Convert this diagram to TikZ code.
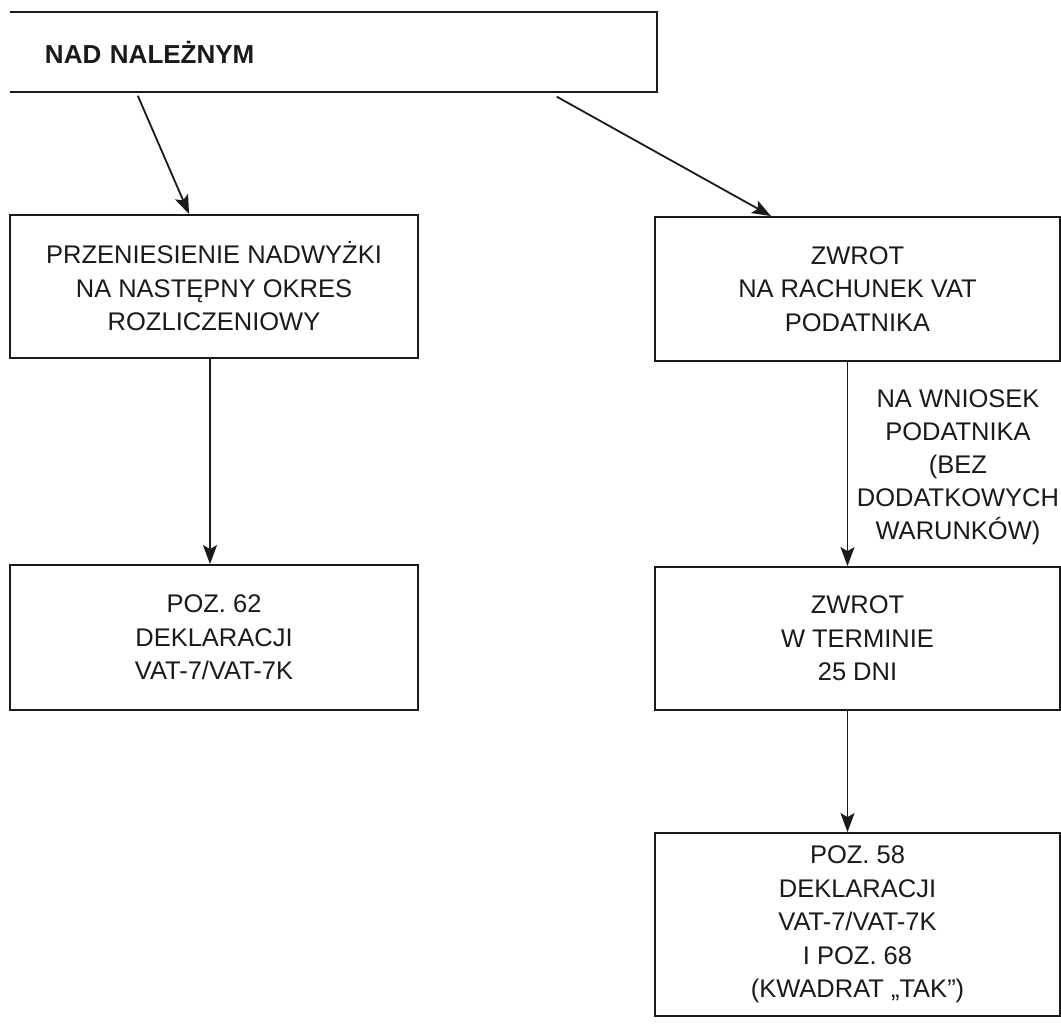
\documentclass[tikz,border=0pt]{standalone}
\usepackage{fontspec}
\setmainfont{Liberation Sans}
\usetikzlibrary{arrows.meta,calc}
\definecolor{ink}{HTML}{1A1A1A}
\tikzset{
  box/.style={draw=ink, line width=1.8pt, rectangle, align=center, text=ink,
    font=\fontsize{25.5}{33.5}\selectfont, inner sep=0pt},
  topbox/.style={rectangle, minimum width=647pt, minimum height=79pt,
    text width=577pt, inner xsep=35pt, inner ysep=0pt, align=left, text=ink,
    font=\bfseries\fontsize{26}{30}\selectfont},
  conn/.style={draw=ink, line width=1.8pt, -{Stealth[length=19pt,width=14pt,inset=4pt]}},
  lbl/.style={align=center, text=ink, font=\fontsize{25.5}{33}\selectfont, inner sep=0pt}
}
\begin{document}
\begin{tikzpicture}[x=1pt,y=-1pt]
\useasboundingbox (0,0) rectangle (1061,1036);
\fill[white] (0,0) rectangle (1061,1036);

\node[topbox] (top) at (333.5,52) {NAD NALEŻNYM};
\draw[ink, line width=1.8pt] (top.north west) -- (top.north east) -- (top.south east) -- (top.south west);

\node[box, minimum width=408pt, minimum height=143pt] (left1) at (214,286.5)
  {PRZENIESIENIE NADWYŻKI\\NA NASTĘPNY OKRES\\ROZLICZENIOWY};
\node[box, minimum width=405pt, minimum height=144pt] (right1) at (857.5,289)
  {ZWROT\\NA RACHUNEK VAT\\PODATNIKA};
\node[box, minimum width=408pt, minimum height=145pt] (left2) at (214,637.5)
  {POZ. 62\\DEKLARACJI\\VAT-7/VAT-7K};
\node[box, minimum width=405pt, minimum height=143pt] (right2) at (857.5,638.5)
  {ZWROT\\W TERMINIE\\25 DNI};
\node[box, minimum width=405pt, minimum height=183pt] (right3) at (857.5,924.5)
  {POZ. 58\\DEKLARACJI\\VAT-7/VAT-7K\\I POZ. 68\\(KWADRAT „TAK”)};

\node[lbl] (lab) at (958,467) {NA WNIOSEK\\PODATNIKA\\(BEZ\\DODATKOWYCH\\WARUNKÓW)};

\coordinate (s1) at ($(top.south west)+(128,4)$);
\coordinate (e1) at ($(left1.north west)+(180,0)$);
\coordinate (s2) at ($(top.south west)+(547,5)$);
\coordinate (e2) at ($(right1.north west)+(117,0)$);

\draw[conn] (s1) -- (e1);
\draw[conn] (s2) -- (e2);
\draw[conn] ($(left1.south)+(-4,0)$) -- ($(left2.north)+(-4,0)$);
\draw[conn] ($(right1.south)+(-10,0)$) -- ($(right2.north)+(-10,0)$);
\draw[conn] ($(right2.south)+(-10,0)$) -- ($(right3.north)+(-10,0)$);
\end{tikzpicture}
\end{document}
